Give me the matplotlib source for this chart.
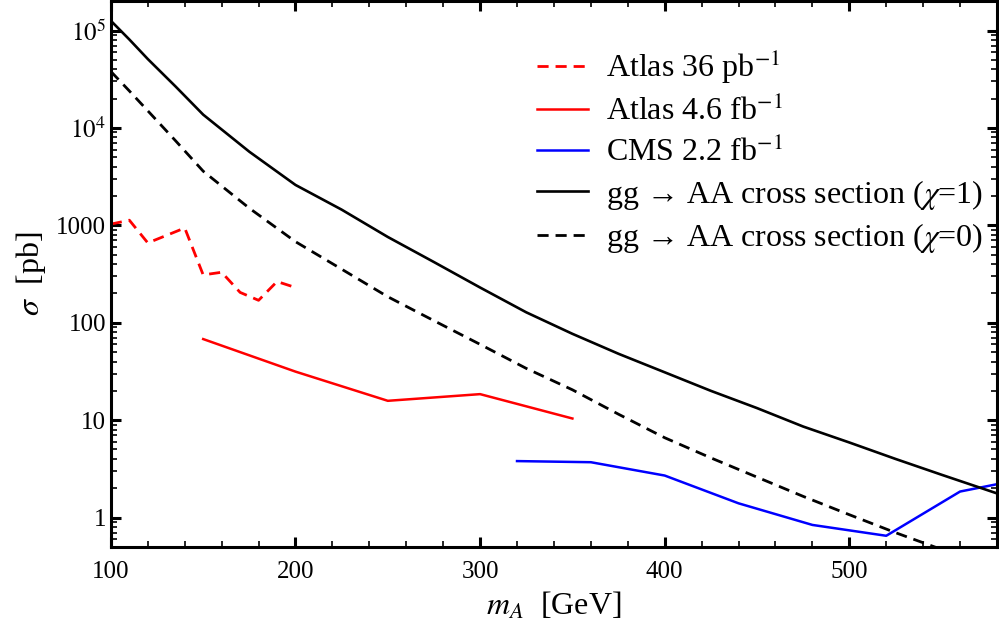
import numpy as np
import matplotlib
matplotlib.use("Agg")
import matplotlib.pyplot as plt
from matplotlib.ticker import FixedLocator, LogLocator, MultipleLocator, NullFormatter

plt.rcParams["font.family"] = ["Liberation Serif", "DejaVu Serif"]
plt.rcParams["mathtext.fontset"] = "stix"

# ATLAS 36 pb^-1 limit
atlas36_m = [100, 110, 120, 140, 150, 160, 170, 180, 190, 200]
atlas36_xs = [1030, 1130, 660, 940, 310, 330, 205, 170, 265, 230]

# ATLAS 4.6 fb^-1 limit
atlas46_m = [150, 200, 250, 300, 350]
atlas46_xs = [68, 31.5, 15.8, 18.5, 10.4]

# CMS 2.2 fb^-1 limit
cms_m = [320, 360, 400, 440, 480, 520, 560, 580]
cms_xs = [3.8, 3.7, 2.7, 1.4, 0.84, 0.65, 1.85, 2.2]

# gg -> AA cross sections
xs_m = [100, 110, 120, 135, 150, 175, 200, 225, 250, 275, 300, 325, 350, 375,
        400, 425, 450, 475, 500, 525, 550, 580]
xs_chi1 = [1.26e5, 8.1e4, 5.1e4, 2.67e4, 1.37e4, 5.7e3, 2.6e3, 1.45e3, 760, 420, 230, 128, 77, 48,
           31, 20, 13.3, 8.6, 5.9, 4.0, 2.75, 1.77]
xs_chi0 = [3.8e4, 2.4e4, 1.5e4, 7.4e3, 3.6e3, 1.5e3, 680, 355, 185, 105, 60, 34, 20.5, 11.5,
           6.6, 4.1, 2.6, 1.65, 1.07, 0.7, 0.47, 0.29]

fig = plt.figure(figsize=(9.99, 6.25), dpi=100)
ax = fig.add_axes([0.111, 0.125, 0.887, 0.873])

ax.plot(atlas36_m, atlas36_xs, color="#ff0000", lw=2.0, dashes=(4, 2.5), label="Atlas 36 pb$^{-1}$")
ax.plot(atlas46_m, atlas46_xs, color="#ff0000", lw=1.8, label="Atlas 4.6 fb$^{-1}$")
ax.plot(cms_m, cms_xs, color="#0000ff", lw=1.8, label="CMS 2.2 fb$^{-1}$")
ax.plot(xs_m, xs_chi1, color="black", lw=1.9, label="gg → AA cross section ($\\chi$=1)")
ax.plot(xs_m, xs_chi0, color="black", lw=2.0, dashes=(4, 2.5), label="gg → AA cross section ($\\chi$=0)")

ax.set_yscale("log")
ax.set_xlim(100, 580)
ax.set_ylim(0.5, 2e5)

ax.xaxis.set_major_locator(FixedLocator([100, 200, 300, 400, 500]))
ax.xaxis.set_minor_locator(MultipleLocator(20))
ax.yaxis.set_major_locator(FixedLocator([1, 10, 100, 1000, 1e4, 1e5]))
ax.set_yticklabels(["1", "10", "100", "1000", "$10^4$", "$10^5$"])
ax.yaxis.set_minor_locator(LogLocator(base=10, subs=np.arange(2, 10)))
ax.yaxis.set_minor_formatter(NullFormatter())

ax.tick_params(which="both", direction="in", top=True, right=True, labelsize=18)
ax.tick_params(which="major", length=7, width=2.2)
ax.tick_params(which="minor", length=4, width=1.2)
ax.tick_params(axis="x", pad=10)
for s in ax.spines.values():
    s.set_linewidth(2.2)

ax.set_xlabel("$m_A$  [GeV]", fontsize=23, labelpad=6)
ax.set_ylabel(r"$\sigma$  [pb]", fontsize=23, labelpad=6)

ax.legend(loc="upper left", bbox_to_anchor=(537 / 999, 1 - 48 / 625), bbox_transform=fig.transFigure,
          frameon=False, fontsize=23, borderpad=0, borderaxespad=0,
          handlelength=1.6, handletextpad=0.55, labelspacing=0.3)

fig.savefig("out.png", dpi=100)
